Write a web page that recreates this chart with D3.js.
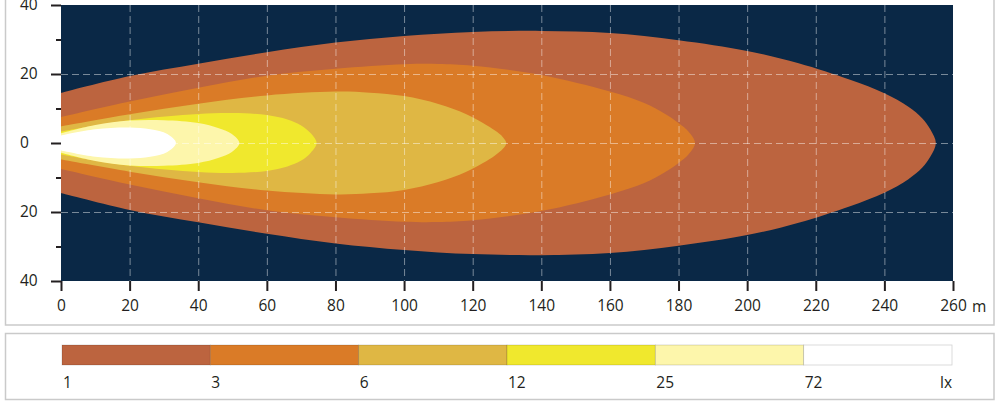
<!DOCTYPE html>
<html>
<head>
<meta charset="utf-8">
<script src="https://cdn.jsdelivr.net/npm/d3@7"></script>
<style>
  html, body { margin: 0; padding: 0; background: #ffffff; }
  svg { display: block; }
  text { font-family: "Open Sans", sans-serif; fill: #231f20; }
</style>
</head>
<body>
<svg id="chart" width="1000" height="405"></svg>
<script>
// ---------- data ----------
// isolux levels (lx) and their contour half-widths [distance m, half-width m]
const levels = [1, 3, 6, 12, 25, 72];
const levelLabels = ["1", "3", "6", "12", "25", "72"];
const unitLabel = "lx";

const contour1lx  = [[0,14.5],[20,19.4],[40,23],[60,26.3],[80,29.1],[100,31],[120,32.2],[140,32.5],[160,31.9],[180,29.8],[200,26.7],[215,23.1],[230,18.3],[240,14.4],[247,10.5],[251,7.2],[253.5,3.8],[255,0]];
const contour3lx  = [[0,7.5],[20,12],[40,16],[60,19.5],[80,21.5],[100,22.8],[110,22.9],[120,22.4],[140,19.7],[160,14.9],[170,11.6],[176,8.5],[180,5.8],[183,3.2],[184.8,0]];
const contour6lx  = [[0,4.8],[20,8.3],[40,11.4],[60,13.8],[80,14.9],[90,14.6],[100,13.6],[110,11.3],[118,8.4],[123,5.8],[126.5,3.6],[128.8,1.7],[129.8,0]];
const contour12lx = [[0,3.3],[20,6.6],[40,8.4],[50,8.7],[60,8.1],[66,6.8],[70,5.1],[72.8,2.8],[74.5,0]];
const contour25lx = [[0,2.8],[10,5.2],[20,6.5],[30,6.6],[40,5.8],[46,4.3],[49.8,2.6],[52,0]];
const contour72lx = [[0,2.2],[10,4],[20,4.5],[26,4],[31,2.6],[33.5,0]];
const contours = [contour1lx, contour3lx, contour6lx, contour12lx, contour25lx, contour72lx];

const xTicks = [0, 20, 40, 60, 80, 100, 120, 140, 160, 180, 200, 220, 240, 260];
const xTickLabels = ["0","20","40","60","80","100","120","140","160","180","200","220","240","260"];
const xUnit = "m";
const yTicks = [40, 20, 0, -20, -40];
const yTickLabels = ["40", "20", "0", "20", "40"];
const yMinorTicks = [30, 10, -10, -30];
const xGrid = [20, 40, 60, 80, 100, 120, 140, 160, 180, 200, 220, 240];
const yGrid = [20, 0, -20];

// ---------- styles ----------
const levelColors = ["#bc643f", "#da7b27", "#dfb744", "#f0e82d", "#fdf6ab", "#ffffff"];
const bgColor = "#0a2846";
const inkColor = "#231f20";
const frameColor = "#cacaca";

// ---------- layout ----------
const svg = d3.select("#chart");
const x = d3.scaleLinear().domain([0, 260]).range([61, 953]);
const y = d3.scaleLinear().domain([-40, 40]).range([281, 5]);

// outer frames
svg.append("rect").attr("x", 5.5).attr("y", -10).attr("width", 988.5).attr("height", 335)
  .attr("fill", "none").attr("stroke", frameColor).attr("stroke-width", 1.5);
svg.append("rect").attr("x", 5.5).attr("y", 333.5).attr("width", 988.5).attr("height", 66)
  .attr("fill", "none").attr("stroke", frameColor).attr("stroke-width", 1.5);

// clip
svg.append("clipPath").attr("id", "plotClip").append("rect")
  .attr("x", x(0)).attr("y", y(40)).attr("width", x(260) - x(0)).attr("height", y(-40) - y(40));

const plot = svg.append("g").attr("clip-path", "url(#plotClip)");
plot.append("rect").attr("x", x(0)).attr("y", y(40)).attr("width", x(260) - x(0)).attr("height", y(-40) - y(40))
  .attr("fill", bgColor);

const line = d3.line().x(d => x(d[0])).y(d => y(d[1])).curve(d3.curveCatmullRom.alpha(0.5));

contours.forEach((c, i) => {
  const top = c.map(d => [d[0], d[1]]);
  const bottom = c.slice(0, -1).reverse().map(d => [d[0], -d[1]]);
  const pts = top.concat(bottom);
  plot.append("path")
    .attr("d", line(pts) + "Z")
    .attr("fill", levelColors[i]);
});

// grid
const grid = svg.append("g").attr("stroke", "#ffffff").attr("stroke-opacity", 0.45)
  .attr("stroke-width", 1).attr("stroke-dasharray", "7,4");
grid.selectAll("line.v").data(xGrid).join("line").attr("class", "v")
  .attr("x1", d => x(d) + 0.5).attr("x2", d => x(d) + 0.5).attr("y1", y(40)).attr("y2", y(-40));
grid.selectAll("line.h").data(yGrid).join("line").attr("class", "h")
  .attr("x1", x(0)).attr("x2", x(260)).attr("y1", d => y(d) + 0.5).attr("y2", d => y(d) + 0.5);

// x axis
const xAxis = d3.axisBottom(x).tickValues(xTicks).tickSize(10).tickSizeOuter(0).tickPadding(9)
  .tickFormat((d, i) => xTickLabels[i]);
const gx = svg.append("g").attr("transform", `translate(0,${y(-40)})`).call(xAxis);
gx.select(".domain").remove();
gx.selectAll(".tick line").attr("stroke", inkColor).attr("stroke-width", 2);
gx.selectAll(".tick text").attr("font-family", "Open Sans").attr("font-size", 15.5).attr("fill", inkColor);
svg.append("text").attr("x", x(260) + 19).attr("y", y(-40) + 30.5)
  .attr("font-size", 15.5).text(xUnit);

// y axis
const yAxis = d3.axisLeft(y).tickValues(yTicks).tickSize(10).tickSizeOuter(0)
  .tickFormat((d, i) => yTickLabels[i]);
const gy = svg.append("g").attr("transform", `translate(${x(0)},0)`).call(yAxis);
gy.select(".domain").remove();
gy.selectAll(".tick line").attr("stroke", inkColor).attr("stroke-width", 2);
gy.selectAll(".tick text").attr("font-family", "Open Sans").attr("font-size", 15.5).attr("fill", inkColor)
  .attr("text-anchor", "start").attr("x", 20 - x(0));
const yMinor = d3.axisLeft(y).tickValues(yMinorTicks).tickSize(5).tickFormat("");
const gym = svg.append("g").attr("transform", `translate(${x(0)},0)`).call(yMinor);
gym.select(".domain").remove();
gym.selectAll(".tick line").attr("stroke", inkColor).attr("stroke-width", 2);

// legend
const lx = d3.scaleLinear().domain([0, levels.length]).range([62, 952]);
const legend = svg.append("g");
legend.selectAll("rect").data(levels).join("rect")
  .attr("x", (d, i) => lx(i)).attr("y", 345).attr("width", (d, i) => lx(i + 1) - lx(i)).attr("height", 20)
  .attr("fill", (d, i) => levelColors[i])
  .attr("stroke", "rgba(0,0,0,0.18)").attr("stroke-width", 0.8);
legend.selectAll("text.lab").data(levelLabels).join("text").attr("class", "lab")
  .attr("x", (d, i) => lx(i) + 1).attr("y", 388).attr("font-size", 15.5).text(d => d);
legend.append("text").attr("x", lx(levels.length)).attr("y", 388).attr("text-anchor", "end")
  .attr("font-size", 15.5).text(unitLabel);
</script>
</body>
</html>
